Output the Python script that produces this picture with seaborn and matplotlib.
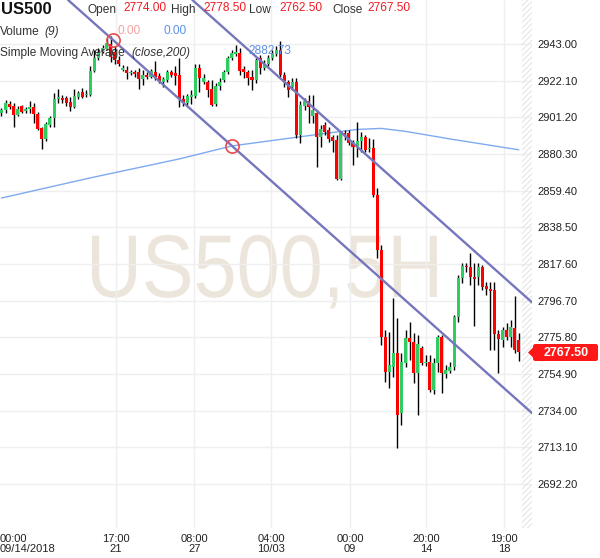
import matplotlib

matplotlib.use("Agg")

import matplotlib.pyplot as plt  # noqa: E402
import numpy as np  # noqa: E402
import pandas as pd  # noqa: E402
import seaborn as sns  # noqa: E402
from matplotlib.font_manager import FontProperties  # noqa: E402
from matplotlib.patches import FancyBboxPatch, PathPatch, Polygon, Rectangle  # noqa: E402
from matplotlib.textpath import TextPath  # noqa: E402
from matplotlib.transforms import Affine2D  # noqa: E402

# ---- data: US500, 5H candles ----
opens = [
    2903.7, 2905.4, 2908.8, 2907.7, 2902.6, 2907.7, 2904.8, 2906.0, 2907.1, 2903.1,
    2895.1, 2888.9, 2896.9, 2900.8, 2911.7, 2912.2, 2912.2, 2910.0, 2907.1, 2912.8,
    2915.7, 2913.9, 2913.9, 2927.6, 2935.0, 2938.5, 2940.2, 2943.0, 2938.5, 2933.9,
    2928.2, 2928.2, 2926.5, 2927.1, 2927.1, 2923.1, 2925.3, 2924.2, 2927.1, 2924.8,
    2921.4, 2922.5, 2927.1, 2926.5, 2925.3, 2911.7, 2909.4, 2912.8, 2913.4, 2929.3,
    2921.4, 2921.4, 2917.4, 2908.8, 2919.1, 2922.5, 2927.1, 2935.0, 2937.3, 2937.9,
    2928.8, 2927.1, 2924.2, 2922.5, 2935.0, 2929.3, 2931.6, 2935.0, 2937.3, 2939.6,
    2925.3, 2921.4, 2918.5, 2921.4, 2891.2, 2907.7, 2910.5, 2902.0, 2903.7, 2890.0,
    2896.9, 2894.0, 2890.0, 2888.3, 2866.1, 2892.3, 2892.3, 2886.6, 2884.3, 2887.7,
    2890.0, 2883.2, 2883.7, 2857.0, 2825.6, 2776.0, 2756.0, 2758.9, 2766.9, 2732.7,
    2761.2, 2775.4, 2773.2, 2755.5, 2769.7, 2761.2, 2761.7, 2745.8, 2761.2, 2776.0,
    2754.9, 2756.6, 2758.9, 2787.4, 2809.6, 2816.5, 2815.9, 2810.2, 2810.2, 2815.9,
    2805.1, 2803.4, 2802.8, 2777.7, 2774.3, 2780.0, 2776.0, 2781.1, 2774.0,
]
highs = [
    2906.5, 2911.1, 2910.5, 2909.4, 2907.7, 2908.3, 2907.1, 2910.5, 2909.4, 2904.3,
    2895.7, 2898.6, 2902.0, 2915.1, 2917.4, 2913.9, 2913.4, 2912.8, 2917.4, 2916.2,
    2917.9, 2916.8, 2930.5, 2939.6, 2940.7, 2942.5, 2946.4, 2947.6, 2941.9, 2936.2,
    2931.1, 2930.5, 2928.2, 2928.2, 2929.3, 2928.2, 2927.1, 2928.8, 2933.3, 2926.5,
    2924.2, 2928.2, 2928.2, 2930.5, 2935.0, 2913.9, 2914.5, 2916.8, 2931.6, 2931.6,
    2925.9, 2922.5, 2922.5, 2920.8, 2923.6, 2928.2, 2936.2, 2939.6, 2942.5, 2940.7,
    2930.5, 2928.2, 2928.2, 2935.0, 2936.8, 2933.9, 2936.8, 2939.6, 2941.9, 2944.7,
    2927.1, 2922.5, 2923.6, 2923.6, 2910.5, 2912.2, 2913.9, 2913.9, 2905.4, 2896.9,
    2898.6, 2895.7, 2891.2, 2891.2, 2893.4, 2894.0, 2894.0, 2888.3, 2898.6, 2892.9,
    2891.2, 2889.5, 2888.9, 2860.9, 2828.5, 2780.0, 2778.9, 2798.2, 2786.8, 2766.9,
    2780.0, 2784.5, 2778.3, 2777.1, 2770.9, 2765.7, 2765.7, 2764.0, 2777.1, 2777.1,
    2760.0, 2761.7, 2788.6, 2811.3, 2818.2, 2818.2, 2823.9, 2818.2, 2818.2, 2817.0,
    2807.4, 2807.4, 2807.4, 2780.0, 2781.7, 2784.0, 2785.7, 2799.4, 2778.5,
]
lows = [
    2902.0, 2903.7, 2906.0, 2895.7, 2902.0, 2903.7, 2903.7, 2903.7, 2898.0, 2894.0,
    2883.2, 2887.7, 2895.7, 2895.7, 2909.4, 2909.4, 2907.7, 2904.8, 2906.5, 2911.7,
    2912.2, 2912.8, 2913.4, 2927.1, 2933.9, 2937.9, 2939.6, 2932.8, 2931.6, 2930.5,
    2927.6, 2923.1, 2925.3, 2924.2, 2917.4, 2919.6, 2923.1, 2923.6, 2922.5, 2920.8,
    2918.5, 2921.4, 2924.2, 2919.6, 2907.1, 2907.7, 2907.7, 2908.8, 2912.2, 2915.7,
    2920.2, 2912.8, 2907.7, 2907.7, 2916.8, 2921.4, 2925.9, 2933.9, 2936.2, 2925.3,
    2923.6, 2919.6, 2916.8, 2920.8, 2925.9, 2928.2, 2930.5, 2933.9, 2936.2, 2924.2,
    2918.5, 2912.8, 2916.8, 2889.5, 2886.6, 2905.4, 2898.0, 2898.0, 2872.9, 2884.3,
    2891.2, 2887.2, 2881.5, 2865.5, 2865.5, 2888.3, 2885.5, 2874.0, 2878.6, 2881.5,
    2881.5, 2881.5, 2855.8, 2821.0, 2771.4, 2750.4, 2746.9, 2753.2, 2712.7, 2725.8,
    2758.9, 2762.9, 2749.8, 2731.5, 2760.0, 2759.5, 2744.7, 2743.5, 2756.0, 2744.1,
    2752.6, 2755.5, 2757.2, 2784.5, 2806.8, 2813.1, 2805.7, 2782.3, 2805.7, 2802.8,
    2800.0, 2768.6, 2768.6, 2755.5, 2770.3, 2774.3, 2770.3, 2766.9, 2762.5,
]
closes = [
    2905.4, 2909.4, 2907.1, 2902.6, 2906.0, 2904.3, 2906.0, 2907.1, 2903.1, 2894.6,
    2888.9, 2897.4, 2900.8, 2911.7, 2912.8, 2911.1, 2909.4, 2907.1, 2913.4, 2915.1,
    2912.8, 2914.5, 2927.6, 2935.0, 2938.5, 2940.7, 2943.6, 2935.6, 2933.9, 2931.6,
    2929.3, 2926.5, 2927.1, 2925.9, 2923.1, 2925.3, 2924.2, 2927.6, 2924.2, 2921.9,
    2923.1, 2927.1, 2925.3, 2924.8, 2911.7, 2909.4, 2913.4, 2913.9, 2929.3, 2923.6,
    2923.6, 2916.8, 2908.3, 2919.1, 2921.4, 2927.1, 2935.0, 2937.9, 2938.5, 2927.6,
    2927.1, 2923.6, 2922.5, 2933.9, 2929.3, 2931.6, 2935.0, 2937.3, 2939.6, 2925.3,
    2921.9, 2916.8, 2921.4, 2891.2, 2908.3, 2910.5, 2907.1, 2905.4, 2890.0, 2894.6,
    2892.9, 2888.9, 2887.7, 2866.1, 2892.3, 2891.2, 2886.6, 2884.3, 2887.7, 2890.0,
    2882.6, 2883.7, 2857.0, 2825.6, 2776.0, 2756.0, 2760.0, 2766.9, 2731.5, 2761.7,
    2775.4, 2773.2, 2755.5, 2772.0, 2761.2, 2761.7, 2745.8, 2761.2, 2776.0, 2755.5,
    2757.2, 2758.9, 2787.4, 2809.6, 2816.5, 2815.9, 2810.2, 2809.1, 2815.9, 2804.5,
    2803.4, 2802.2, 2777.7, 2774.9, 2780.0, 2776.0, 2781.7, 2768.6, 2767.5,
]

# simple moving average (close, 200), sampled along the curve
ma_bars = [0, 22, 44, 57, 68, 79, 88, 94, 100, 111, 128]
ma_values = [2855.2, 2866.7, 2877.5, 2884.9, 2888.3, 2891.7, 2894.3, 2894.9, 2893.2, 2888.9, 2882.7]

# channel trend lines: (bar, price) anchors
lower_channel = [(27.6, 2945.3), (57.05, 2884.9)]
upper_channel = [(46.66, 2969.3), (130.1, 2798.2)]

y_ticks = [2692.2, 2713.1, 2734.0, 2754.9, 2775.8, 2796.7, 2817.6,
           2838.5, 2859.4, 2880.3, 2901.2, 2922.1, 2943.0]
x_tick_bars = [-0.37, 28.3, 47.7, 66.7, 86.3, 105.1, 124.4]
x_tick_labels = ["00:00\n09/14/2018", "17:00\n21", "08:00\n27", "04:00\n10/03",
                 "00:00\n09", "20:00\n14", "19:00\n18"]

UP = "#2ecc63"
DOWN = "#ff0000"

sns.set_theme(style="white")
plt.rcParams["font.family"] = ["Liberation Sans", "DejaVu Sans"]
plt.rcParams["hatch.linewidth"] = 0.7

df = pd.DataFrame({"open": opens, "high": highs, "low": lows, "close": closes})
df["bar"] = np.arange(len(df))
df["up"] = df["close"] >= df["open"]

W, H = 600, 558
fig = plt.figure(figsize=(W / 100, H / 100), dpi=100)
fig.patch.set_facecolor("white")
ax = fig.add_axes([0, 30 / H, 532 / W, 528 / H])
ax.set_facecolor("white")
ax.set_xlim(-0.37, 131.3)
ax.set_ylim(2667.1, 2968.1)
for s in ax.spines.values():
    s.set_visible(False)

# watermark, a little condensed like the original font
wm = TextPath((0, 0), "US500,5H", size=89, prop=FontProperties(family="Liberation Sans"))
wm_tr = Affine2D().scale(0.87 / 100, 1 / 100).translate(0.86, (H - 297) / 100) + fig.dpi_scale_trans
ax.add_patch(PathPatch(wm, transform=wm_tr, fc="#ece5db", ec="none", zorder=0))

# grid + axes
ax.set_axisbelow(True)
ax.grid(True, color="#efefef", lw=1.0)
ax.yaxis.tick_right()
ax.set_yticks(y_ticks)
ax.set_yticklabels([f"{v:.2f}" for v in y_ticks])
ax.tick_params(axis="y", length=0, pad=3.6, labelsize=8, labelcolor="#222222")
ax.set_xticks(x_tick_bars)
ax.set_xticklabels(x_tick_labels)
ax.tick_params(axis="x", length=0, pad=4.3, labelsize=8, labelcolor="#222222")
for i, lab in enumerate(ax.get_xticklabels()):
    lab.set_linespacing(1.05)
    if i == 0:
        lab.set_ha("left")
ax.xaxis.get_gridlines()[0].set_visible(False)

# hatched "future" strip
ax.add_patch(Rectangle((128.8, 2667.1), 3.0, 310, facecolor="none",
                       edgecolor="#e2e2e2", hatch="//////", lw=0, zorder=1))

# moving average
sns.lineplot(x=ma_bars, y=ma_values, ax=ax, color="#7eaaef", lw=1.0, zorder=2)

# candles
ax.vlines(df["bar"], df["low"], df["high"], color="black", lw=1.0, zorder=3)
body = (df["close"] - df["open"]).abs().clip(lower=0.6)
ax.bar(df["bar"], body, bottom=df[["open", "close"]].min(axis=1), width=0.75,
       color=np.where(df["up"], UP, DOWN), linewidth=0, zorder=4)

# channel lines
ax.axline(lower_channel[0], lower_channel[1], color="#7676bd", lw=1.7, zorder=5)
ax.axline(upper_channel[0], upper_channel[1], color="#7676bd", lw=1.7, zorder=5)
ax.plot([p[0] for p in lower_channel], [p[1] for p in lower_channel], ls="none",
        marker="o", ms=9.5, mfc="none", mec="#e84a4a", mew=1.2, zorder=6)


def fx(x):
    return x / W


def fy(y):
    return 1 - y / H


# header texts
txt = "#333333"
red = "#ef1c24"
fig.text(fx(1), fy(10), "US500", fontsize=12, fontweight="bold", color="#111111", va="center")
for x, s, c in [(88, "Open", txt), (123, "2774.00", red), (171, "High", txt),
                (203, "2778.50", red), (249, "Low", txt), (279, "2762.50", red),
                (332, "Close", txt), (367, "2767.50", red)]:
    fig.text(fx(x), fy(10 if c == txt else 8), s, fontsize=8.6, color=c, va="center")
fig.text(fx(0), fy(32), "Volume", fontsize=8.6, color=txt, va="center")
fig.text(fx(44), fy(32), "(9)", fontsize=8.6, color=txt, va="center", style="italic")
fig.text(fx(118), fy(31), "0.00", fontsize=8.6, color="#f4a3a3", va="center")
fig.text(fx(163), fy(31), "0.00", fontsize=8.6, color="#5b92e6", va="center")
fig.text(fx(0), fy(53), "Simple Moving Average", fontsize=8.6, color=txt, va="center")
fig.text(fx(131), fy(53), "(close,200)", fontsize=8.6, color=txt, va="center", style="italic")
fig.text(fx(248), fy(51), "2882.73", fontsize=8.6, color="#5b8fe2", va="center")

# last price tag
fig.add_artist(Polygon([(fx(528), fy(352.5)), (fx(534), fy(346.5)), (fx(534), fy(358.5))],
                       closed=True, transform=fig.transFigure, fc="#ff1616", ec="none"))
fig.add_artist(FancyBboxPatch((fx(533), fy(361)), 65 / W, 17 / H,
                              boxstyle="round,pad=0,rounding_size=0.004",
                              transform=fig.transFigure, fc="#ff1616", ec="none"))
fig.text(fx(566), fy(352.5), "2767.50", fontsize=9, fontweight="bold", color="white",
         ha="center", va="center")

fig.savefig("out.png", dpi=100)
